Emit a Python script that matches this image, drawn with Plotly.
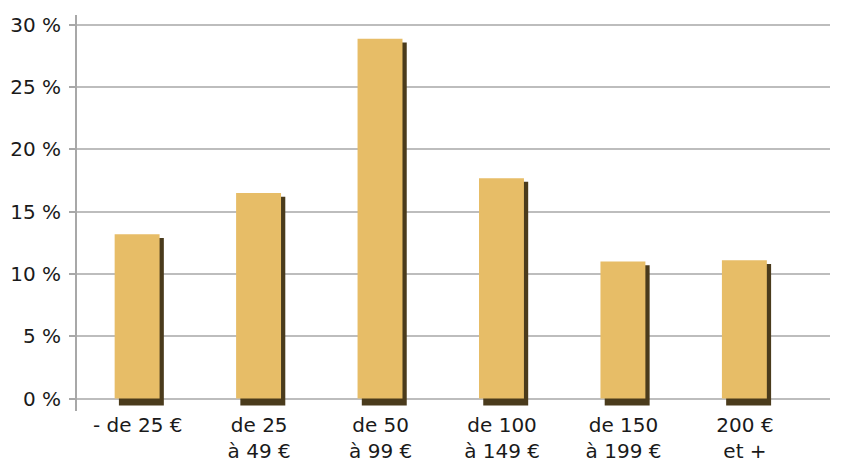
import plotly.graph_objects as go

categories = ["- de 25 €", "de 25<br>à 49 €", "de 50<br>à 99 €", "de 100<br>à 149 €", "de 150<br>à 199 €", "200 €<br>et +"]
values = [13.2, 16.5, 28.9, 17.7, 11.0, 11.1]
y_ticks = [0, 5, 10, 15, 20, 25, 30]
y_tick_labels = ["0 %", "5 %", "10 %", "15 %", "20 %", "25 %", "30 %"]

shadow_drop = 0.55
shadow_top_gap = 0.3

fig = go.Figure()
# shadow (drawn behind)
fig.add_trace(go.Bar(
    x=categories,
    y=[v + shadow_drop - shadow_top_gap for v in values],
    base=-shadow_drop,
    width=0.37, offset=-0.155,
    marker=dict(color="#4a3b1c", line=dict(width=0)),
    hoverinfo="skip",
))
# main bars
fig.add_trace(go.Bar(
    x=categories,
    y=values,
    width=0.37, offset=-0.19,
    marker=dict(color="#E7BD67", line=dict(width=0)),
))

fig.update_layout(
    width=853, height=469,
    margin=dict(l=77, r=23, t=15, b=58),
    paper_bgcolor="white", plot_bgcolor="white",
    barmode="overlay",
    showlegend=False,
    font=dict(family="DejaVu Sans, Arial, sans-serif", size=20, color="#1a1a1a"),
    xaxis=dict(
        type="category",
        range=[-0.5, 5.7],
        showgrid=False, zeroline=False, showline=False,
        ticks="", tickfont=dict(size=20),
        automargin=False,
    ),
    yaxis=dict(
        range=[-1, 30.8],
        tickvals=y_ticks, ticktext=y_tick_labels,
        showgrid=True, gridcolor="#bdbdbd", gridwidth=2,
        zeroline=False,
        showline=True, linecolor="#a8a8a8", linewidth=2,
        ticks="outside", ticklen=6, tickcolor="#a8a8a8", tickwidth=2,
        ticklabelstandoff=4,
        tickfont=dict(size=20),
        automargin=False,
    ),
)

fig.write_html("out.html")
